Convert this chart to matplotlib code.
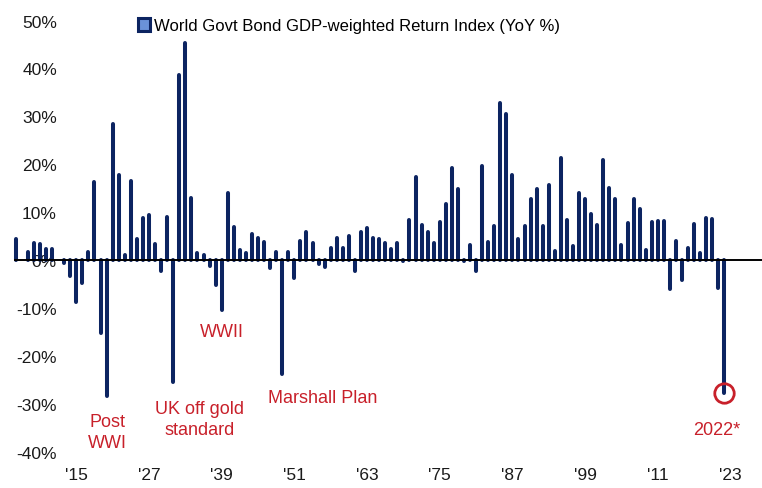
import matplotlib
matplotlib.use("Agg")
import matplotlib.pyplot as plt
from matplotlib.patches import Patch
import numpy as np

# World govt bond GDP-weighted return index, YoY %, 1905-2022
years = np.arange(1905, 2023)
returns = [
    4.3, 0.0, 1.7, 3.6, 3.4, 2.3, 2.3, 0.0, -0.7, -3.4,
    -8.7, -4.8, 1.7, 16.3, -15.3, -28.4, 28.4, 17.7, 1.0, 16.4,
    4.3, 8.8, 9.4, 3.4, -2.2, 9.0, -25.4, 38.6, 45.3, 12.9,
    1.5, 1.1, -1.2, -5.3, -10.5, 13.9, 6.9, 2.0, 1.5, 5.5,
    4.6, 3.7, -1.7, 1.6, -23.8, 1.6, -3.7, 3.9, 5.9, 3.6,
    -0.9, -1.5, 2.6, 4.5, 2.6, 5.0, -2.2, 5.9, 6.6, 4.5,
    4.3, 3.6, 2.2, 3.5, -0.3, 8.4, 17.4, 7.3, 5.9, 3.6,
    7.9, 11.6, 19.2, 14.8, -0.3, 3.2, -2.2, 19.7, 3.8, 7.0,
    32.8, 30.5, 17.7, 4.3, 7.1, 12.8, 14.8, 7.0, 15.6, 1.8,
    21.4, 8.4, 2.9, 13.9, 12.8, 9.6, 7.3, 20.8, 15.1, 12.7,
    3.2, 7.8, 12.8, 10.6, 2.0, 7.9, 8.1, 8.1, -6.1, 4.0,
    -4.1, 2.6, 7.6, 1.4, 8.8, 8.6, -5.8, -27.7,
]

yticks = [-40, -30, -20, -10, 0, 10, 20, 30, 40, 50]
xticks = [1915, 1927, 1939, 1951, 1963, 1975, 1987, 1999, 2011, 2023]
xtick_labels = ["'15", "'27", "'39", "'51", "'63", "'75", "'87", "'99", "'11", "'23"]

events = [
    ("Post\nWWI", 1920.1, -35.9),
    ("UK off gold\nstandard", 1935.4, -33.2),
    ("WWII", 1939.1, -15.0),
    ("Marshall Plan", 1955.6, -28.6),
    ("2022*", 2020.8, -35.3),
]

NAVY = "#0c2461"
RED = "#c8202a"

plt.rcParams["font.family"] = ["Liberation Sans", "DejaVu Sans"]

fig = plt.figure(figsize=(7.62, 4.89), dpi=100)
ax = fig.add_axes([0, 0, 1, 1])

ax.vlines(years, 0, returns, color=NAVY, linewidth=2.9, capstyle="round", zorder=3)
ax.hlines(0, years[0] - 0.3, 2030, color="black", linewidth=1.4, zorder=4)

# highlight 2022
ax.plot(years[-1], returns[-1], marker="o", markersize=14, markerfacecolor="none",
        markeredgecolor=RED, markeredgewidth=2, zorder=5)

for label, x, y in events:
    ax.text(x, y, label, color=RED, fontsize=13, ha="center", va="center",
            linespacing=1.25)

ax.set_xlim(1902.4, 2028.2)
ax.set_ylim(-47.6, 54.5)
ax.set_yticks(yticks)
ax.set_yticklabels([f"{v}%" for v in yticks])
ax.set_xticks(xticks)
ax.set_xticklabels(xtick_labels)
ax.tick_params(axis="y", length=0, pad=-41, labelsize=12.5, colors="#1a1a1a")
ax.tick_params(axis="x", length=0, pad=-15, labelsize=12.5, colors="#1a1a1a")
for s in ax.spines.values():
    s.set_visible(False)

handle = Patch(facecolor="#6a92d8", edgecolor=NAVY, linewidth=2.2)
ax.legend([handle], ["World Govt Bond GDP-weighted Return Index (YoY %)"],
          loc="upper left", bbox_to_anchor=(0.172, 0.974), frameon=False,
          fontsize=12, handlelength=0.75, handleheight=0.75,
          handletextpad=0.2, borderaxespad=0)

plt.savefig("out.png", dpi=100)
